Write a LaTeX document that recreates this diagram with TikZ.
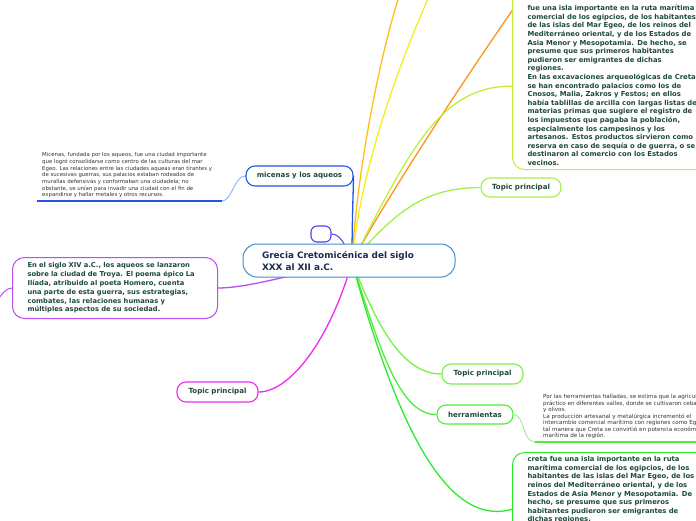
\documentclass[tikz,border=0pt]{standalone}
\usepackage{fontspec}
\setmainfont{DejaVu Sans}
\usetikzlibrary{positioning,backgrounds}
\definecolor{navy}{HTML}{1C2B50}
\definecolor{ink}{HTML}{1E4A3C}
\definecolor{txtgray}{HTML}{333333}
\definecolor{rootblue}{HTML}{3D8FD1}
\definecolor{micblue}{HTML}{2356E8}
\definecolor{paleblue}{HTML}{8FB0FF}
\definecolor{indigo}{HTML}{5A3CF0}
\definecolor{troyvio}{HTML}{B94DF0}
\definecolor{magent}{HTML}{F02AF0}
\definecolor{gold}{HTML}{FFBE1A}
\definecolor{yel}{HTML}{F2EE22}
\definecolor{orng}{HTML}{FF9322}
\definecolor{limeA}{HTML}{C2EE3A}
\definecolor{limeB}{HTML}{A6EE4A}
\definecolor{greenA}{HTML}{7AEE4A}
\definecolor{greenB}{HTML}{4DEE3A}
\definecolor{greenC}{HTML}{2BEB2B}
\definecolor{palegreen}{HTML}{9AEE90}
\newcommand{\fs}[2]{\fontsize{#1}{#2}\selectfont}

\begin{document}
\begin{tikzpicture}[x=1pt,y=-1pt,
  box/.style={draw,fill=white,rounded corners=9pt,line width=1.1pt,inner xsep=2pt,
    font=\fs{7.1}{9}\bfseries,text=ink,minimum height=20pt},
  note/.style={draw,fill=white,rounded corners=12pt,line width=1pt,align=left,
    inner xsep=15pt,inner ysep=4pt,font=\fs{6.85}{8.6}\bfseries,text=ink},
  plain/.style={align=left,anchor=north west,inner sep=0pt,text=txtgray},
  link/.style={line width=1.3pt}]
\useasboundingbox (0,0) rectangle (696,520);
\clip (0,0) rectangle (696,520);

\node[draw=rootblue,fill=white,line width=1pt,rounded corners=14pt,minimum width=212pt,
  minimum height=33pt,text width=174pt,inner xsep=19pt,align=left,font=\fs{8.9}{12}\bfseries,
  text=navy] (root) at (349,260.5) {Grecia Cretomicénica del siglo\\XXX al XII a.C.};
\node[draw=indigo,fill=white,line width=1.1pt,rounded corners=6pt,minimum width=20pt,
  minimum height=16pt] (blank) at (321,234) {};

\node[box,draw=micblue,minimum width=107pt] (mic) at (299.5,176) {micenas y los aqueos};
\node[plain,font=\fs{5.4}{6.67}] (mictext) at (42,152.5) {Micenas, fundada por los aqueos, fue una ciudad importante\\
que logró consolidarse como centro de las culturas del mar\\
Egeo. Las relaciones entre las ciudades aqueas eran tirantes y\\
de sucesivas guerras, sus palacios estaban rodeados de\\
murallas defensivas y conformaban una ciudadela; no\\
obstante, se unían para invadir una ciudad con el fin de\\
expandirse y hallar metales y otros recursos.};
\coordinate (micu) at (222,201);
\coordinate (micu0) at (37,201);

\node[note,draw=troyvio,anchor=north west,text width=175pt,minimum height=61pt,
  font=\fs{6.75}{8.8}\bfseries] (troy) at (12,257)
  {En el siglo XIV a.C., los aqueos se lanzaron\\
sobre la ciudad de Troya. El poema épico La\\
Ilíada, atribuido al poeta Homero, cuenta\\
una parte de esta guerra, sus estrategias,\\
combates, las relaciones humanas y\\
múltiples aspectos de su sociedad.};
\coordinate (troyend) at (-4,302);

\node[box,draw=magent,minimum width=81pt] (topicC) at (217.5,392) {Topic principal};

\node[note,draw=limeA,anchor=south west,text width=200pt] (creta) at (512,170)
  {\rule{0pt}{20pt}fue una isla importante en la ruta marítima\\
comercial de los egipcios, de los habitantes\\
de las islas del Mar Egeo, de los reinos del\\
Mediterráneo oriental, y de los Estados de\\
Asia Menor y Mesopotamia. De hecho, se\\
presume que sus primeros habitantes\\
pudieron ser emigrantes de dichas\\
regiones.\\
En las excavaciones arqueológicas de Creta\\
se han encontrado palacios como los de\\
Cnosos, Malia, Zakros y Festos; en ellos\\
había tablillas de arcilla con largas listas de\\
materias primas que sugiere el registro de\\
los impuestos que pagaba la población,\\
especialmente los campesinos y los\\
artesanos. Estos productos sirvieron como\\
reserva en caso de sequía o de guerra, o se\\
destinaron al comercio con los Estados\\
vecinos.};
\coordinate (goldend) at (401,-10);
\coordinate (yelend) at (432,-10);
\coordinate (orend) at (528,-12);

\node[box,draw=limeB,minimum width=80pt,minimum height=19pt] (topicA) at (521,187.5) {Topic principal};
\node[box,draw=greenA,minimum width=81pt] (topicB) at (482.5,374) {Topic principal};
\node[box,draw=greenB,minimum width=76pt,minimum height=19pt] (herr) at (475,414.5) {herramientas};
\node[plain,font=\fs{5.6}{6.5}] (herrtext) at (543,394.5) {Por las herramientas halladas, se estima que la agricultura\\
práctico en diferentes valles, donde se cultivaron cebada\\
y olivos.\\
La producción artesanal y metalúrgica incrementó el\\
intercambio comercial marítimo con regiones como Egipto\\
tal manera que Creta se convirtió en potencia económica\\
marítima de la región.};
\coordinate (herru) at (535,442);
\coordinate (herru0) at (700,442);

\node[note,draw=greenC,anchor=north west,text width=200pt] (cretab) at (512,452)
  {creta fue una isla importante en la ruta\\
marítima comercial de los egipcios, de los\\
habitantes de las islas del Mar Egeo, de los\\
reinos del Mediterráneo oriental, y de los\\
Estados de Asia Menor y Mesopotamia. De\\
hecho, se presume que sus primeros\\
habitantes pudieron ser emigrantes de\\
dichas regiones.\rule[-40pt]{0pt}{0pt}};

\begin{scope}[on background layer]
\coordinate (hub) at (352,262);
\draw[link,micblue] (hub) .. controls (352,225) and (353,200) .. (mic.east);
\draw[link,paleblue,line width=0.9pt] (mic.west) .. controls (234,176) and (232,201) .. (micu);
\draw[link,micblue,line width=1.5pt] (micu) -- (micu0);
\draw[link,gold] (hub) .. controls (356,180) and (378,60) .. (goldend);
\draw[link,yel] (hub) .. controls (360,170) and (400,60) .. (yelend);
\draw[link,orng] (hub) .. controls (385,200) and (470,70) .. (orend);
\draw[link,limeA] (hub) .. controls (410,150) and (440,86) .. (creta.184);
\draw[link,limeB] (hub) .. controls (400,205) and (430,188) .. (topicA.west);
\draw[link,indigo,line width=1pt] (blank.east) .. controls (340,234) and (346,245) .. (hub);
\draw[link,troyvio] (hub) .. controls (300,272) and (250,288) .. (troy.east);
\draw[link,troyvio,line width=1pt] (troy.west) .. controls (6,288) and (2,294) .. (troyend);
\draw[link,magent] (hub) .. controls (330,340) and (290,392) .. (topicC.east);
\draw[link,greenA] (hub) .. controls (375,320) and (400,374) .. (topicB.west);
\draw[link,greenB] (hub) .. controls (380,350) and (400,415) .. (herr.west);
\draw[link,palegreen,line width=0.9pt] (herr.east) .. controls (525,415) and (522,442) .. (herru);
\draw[link,greenB,line width=1.5pt] (herru) -- (herru0);
\draw[link,greenC] (hub) .. controls (390,400) and (440,530) .. (cretab.west);
\end{scope}
\end{tikzpicture}
\end{document}
